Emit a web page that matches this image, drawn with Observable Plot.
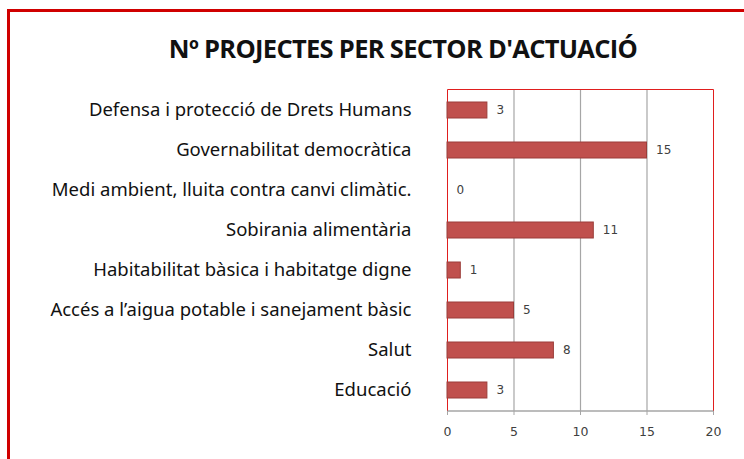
<!DOCTYPE html>
<html>
<head>
<meta charset="utf-8">
<script src="https://cdn.jsdelivr.net/npm/d3@7"></script>
<script src="https://cdn.jsdelivr.net/npm/@observablehq/plot@0.6"></script>
<style>
  html, body { margin: 0; padding: 0; background: #fff; overflow: hidden; }
  #wrap { position: relative; width: 744px; height: 459px; }
  #border { position: absolute; left: 7px; top: 9px; width: 800px; height: 500px; border: 3px solid #d00000; box-sizing: border-box; }
  #title { position: absolute; left: 0; width: 806px; top: 31px; text-align: center; font-family: "Open Sans", sans-serif; font-weight: 700; font-size: 25.5px; letter-spacing: -0.7px; color: #111; }
  #chart { position: absolute; left: 0; top: 0; }
</style>
</head>
<body>
<div id="wrap">
  <div id="border"></div>
  <div id="title">Nº PROJECTES PER SECTOR D'ACTUACIÓ</div>
  <div id="chart"></div>
</div>
<script>
const categories = [
  "Defensa i protecció de Drets Humans",
  "Governabilitat democràtica",
  "Medi ambient, lluita contra canvi climàtic.",
  "Sobirania alimentària",
  "Habitabilitat bàsica i habitatge digne",
  "Accés a l’aigua potable i sanejament bàsic",
  "Salut",
  "Educació"
];
const values = [3, 15, 0, 11, 1, 5, 8, 3];
const xTicks = [0, 5, 10, 15, 20];
const gridTicks = [5, 10, 15];

const data = categories.map((c, i) => ({category: c, value: values[i]}));

// plot-area outline: red left/top/right edges, gray baseline at the bottom
function plotOutline(index, scales, values, dim) {
  const ns = "http://www.w3.org/2000/svg";
  const g = document.createElementNS(ns, "g");
  const x0 = dim.marginLeft + 0.5, x1 = dim.width - dim.marginRight + 0.5;
  const y0 = dim.marginTop + 0.5, y1 = dim.height - dim.marginBottom;
  const red = document.createElementNS(ns, "path");
  red.setAttribute("d", `M${x0},${y1}V${y0}H${x1}V${y1}`);
  red.setAttribute("fill", "none");
  red.setAttribute("stroke", "#e01e1e");
  red.setAttribute("stroke-width", 1);
  const gray = document.createElementNS(ns, "line");
  gray.setAttribute("x1", x0); gray.setAttribute("x2", x1);
  gray.setAttribute("y1", y1); gray.setAttribute("y2", y1);
  gray.setAttribute("stroke", "#a6a6a6");
  gray.setAttribute("stroke-width", 1.5);
  g.appendChild(red); g.appendChild(gray);
  return g;
}

const plot = Plot.plot({
  width: 744,
  height: 459,
  marginLeft: 447,
  marginRight: 31,
  marginTop: 89,
  marginBottom: 48,
  style: {background: "transparent", overflow: "visible"},
  x: {domain: [0, 20], ticks: xTicks, label: null},
  y: {domain: categories, label: null, paddingInner: 0.6, paddingOuter: 0.3},
  marks: [
    Plot.ruleX(gridTicks, {stroke: "#a6a6a6", strokeWidth: 1.2}),
    plotOutline,
    Plot.barX(data, {x: "value", y: "category", fill: "#c0504d", stroke: "#9b3d3a", strokeWidth: 1}),
    Plot.text(data, {x: "value", y: "category", text: d => String(d.value), dx: 9, textAnchor: "start", fill: "#404040", fontSize: 12, fontFamily: "DejaVu Sans"}),
    Plot.axisX(xTicks, {tickSize: 4, tickPadding: 12, stroke: "#a6a6a6", fill: "#404040", fontSize: 12.5, fontFamily: "DejaVu Sans", label: null}),
    Plot.axisY({tickSize: 0, tickPadding: 36, fontSize: 18.5, fontFamily: "Noto Sans", fill: "#111", label: null})
  ]
});
document.getElementById("chart").appendChild(plot);
</script>
</body>
</html>
